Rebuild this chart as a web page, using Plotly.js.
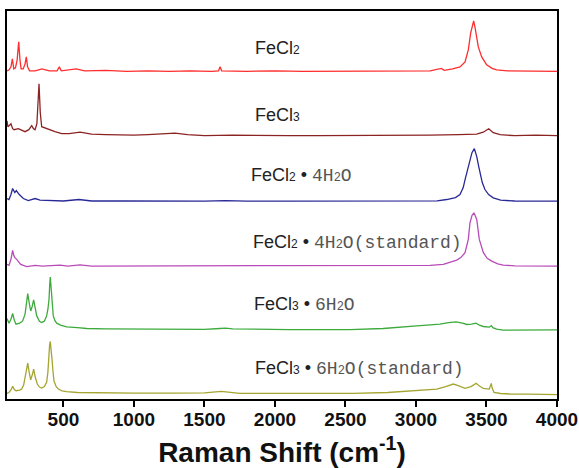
<!DOCTYPE html>
<html>
<head>
<meta charset="utf-8">
<script src="https://cdn.plot.ly/plotly-3.0.1.min.js"></script>
<style>html,body{margin:0;padding:0;background:#fff;}#chart{width:579px;height:468px;}</style>
</head>
<body>
<div id="chart"></div>
<script>
// Raman spectra (stacked, arbitrary intensity units)
const fecl2_x = [100,115,128,138,148,160,172,183,192,200,215,228,237,246,260,300,348,400,455,471,485,590,650,800,950,1100,1250,1400,1550,1600,1611,1622,1800,2000,2200,2400,2600,2800,3000,3100,3180,3200,3260,3312,3348,3371,3388,3400,3409,3418,3428,3442,3466,3501,3540,3572,3650,3800,3900,4000];
const fecl2_y = [329,330,333,341,331,332,340,358,340,331,331,336,343,333,329,329,331,329,329,333,329,331,329,329.5,328.5,329,328.5,329,328.5,329,333,329,328.5,329,328.5,328.5,328.5,328.5,329,329,331.5,329.5,331,333,338,350,367,375,379,373,364,353,343,335,331.5,330,329,328.5,328.5,328.5];

const fecl3_x = [100,106,115,128,140,150,180,205,228,255,275,288,299,312,320,327,332,336,346,381,440,488,540,618,700,800,900,1000,1100,1200,1291,1380,1500,1700,1900,2100,2300,2500,2700,2900,3100,3300,3430,3477,3516,3548,3596,3700,3850,4000];
const fecl3_y = [279,273,274,276,271,270,271,269,268,270,274,271,270,276,300,316,300,287,273,271,268,266,266,267.5,265.5,265,264.5,264.5,265,265.5,266.5,265,264,264.5,264,264,264,264,264,264,264.5,265,265.5,267.5,271,267,265,264,264.5,264];

const fecl2_4h2o_x = [100,114,128,140,155,166,187,216,251,299,334,400,500,610,700,900,1200,1500,1650,1800,2100,2400,2700,3000,3150,3218,3280,3312,3335,3348,3365,3378,3397,3414,3431,3445,3454,3470,3489,3515,3548,3600,3700,4000];
const fecl2_4h2o_y = [201,200,205,211,207,209,205,201,199,201,199.3,198.8,198.5,200,198.5,198.5,198.3,198.3,198.8,198.3,198.3,198.3,198.3,198.5,198.7,200,202,205,212,220,230,237,247,251,243,233,227,217,210,205,201.7,199.3,198.5,198.3];

const fecl2_4h2o_std_x = [100,114,128,140,148,155,169,183,197,240,299,350,476,530,618,700,900,1200,1500,1800,2100,2400,2700,3000,3100,3194,3265,3289,3320,3348,3371,3383,3397,3411,3431,3449,3478,3505,3537,3580,3619,3700,4000];
const fecl2_4h2o_std_y = [135,134,140,149,144,141.7,140,137,135,132.7,134,133.3,134.3,133.3,134.5,133.3,133.3,133.3,133.3,133.3,133.3,133.3,133.3,133.5,134,135,138.3,139.3,142,146.7,160,176.7,184,186.7,180,160,146.7,141,138.3,135.5,134.3,133.5,133.3];

const fecl3_6h2o_x = [100,114,128,140,152,164,190,211,228,238,247,258,268,279,289,300,311,330,346,365,381,390,398,403,407,412,417,428,440,452,480,523,600,665,800,993,1200,1400,1500,1610,1650,1700,1900,2100,2300,2532,2768,2900,3005,3100,3170,3230,3284,3330,3360,3395,3426,3450,3477,3520,3534,3545,3572,3619,3800,4000];
const fecl3_6h2o_y = [80.7,76,80,85.7,79,75,76,78.3,85,95,105.7,96,88.3,93,99.3,91,83.3,78,76.7,78,83.3,90,100,115,122.3,113,100,83.3,78.5,76,74,72.3,71.5,70.7,70.3,70,69.8,69.5,69.8,70.7,71,70.3,69.7,69.5,69.5,69.5,70.7,71.8,73.3,74.3,75,76.5,77.3,76,74.7,75,76,74,72.7,72,73.5,71.5,70,69,69.3,69.3];

const fecl3_6h2o_std_x = [100,114,128,140,152,164,190,204,218,228,238,247,257,268,279,289,300,315,330,346,365,381,390,396,402,407,412,419,426,433,448,464,490,523,600,759,1000,1300,1500,1620,1680,1750,2000,2300,2553,2800,3005,3147,3210,3265,3300,3348,3390,3426,3450,3477,3520,3528,3534,3540,3553,3600,3667,3800,4000];
const fecl3_6h2o_std_y = [5.7,6.5,9,12.7,9.5,8.3,9,10,14,21.7,30,36,27,19.3,24,30,22,15,12,11,12.5,16.7,27,43.3,54,57.7,52,40,28,18.3,12.5,10,8.2,7.3,6.5,6,5.8,5.8,6.2,7.7,7,5.7,5.6,5.6,5.7,6.5,8.3,10,12.5,15,13.5,10.7,12.5,15.7,13,10.7,10,13,15.7,11,6.7,5.5,5,4.8,4.3];

const xTickVals = [500,1000,1500,2000,2500,3000,3500,4000];
const small = d => '<span style="font-size:12px">' + d + '</span>';
const serif = t => '<span style="font-family:\'Liberation Mono\';color:#555">' + t + '</span>';
const labelText = [
  'FeCl' + small('2'),
  'FeCl' + small('3'),
  'FeCl' + small('2') + ' • ' + serif('4H' + small('2') + 'O'),
  'FeCl' + small('2') + ' • ' + serif('4H' + small('2') + 'O(standard)'),
  'FeCl' + small('3') + ' • ' + serif('6H' + small('2') + 'O'),
  'FeCl' + small('3') + ' • ' + serif('6H' + small('2') + 'O(standard)')
];
const labelX = [1844, 1844, 1815, 1830, 1835, 1844];
const labelY = [352, 285, 224.3, 157.3, 95, 31];

const series = [
  [fecl2_x, fecl2_y, 'rgb(255,45,45)'],
  [fecl3_x, fecl3_y, 'rgb(140,35,35)'],
  [fecl2_4h2o_x, fecl2_4h2o_y, 'rgb(40,40,150)'],
  [fecl2_4h2o_std_x, fecl2_4h2o_std_y, 'rgb(185,75,185)'],
  [fecl3_6h2o_x, fecl3_6h2o_y, 'rgb(60,170,60)'],
  [fecl3_6h2o_std_x, fecl3_6h2o_std_y, 'rgb(165,165,50)']
];

const traces = series.map(s => ({
  x: s[0], y: s[1], type: 'scatter', mode: 'lines',
  line: {color: s[2], width: 1.3},
  hoverinfo: 'skip', showlegend: false
}));

const annotations = labelText.map((t, i) => ({
  x: labelX[i], y: labelY[i], xref: 'x', yref: 'y',
  text: t, showarrow: false, xanchor: 'left', yanchor: 'middle',
  font: {family: 'Liberation Sans, Arial, sans-serif', size: 18, color: '#222'}
}));

const layout = {
  width: 579, height: 468,
  margin: {l: 7, r: 22, t: 11, b: 69},
  paper_bgcolor: '#fff', plot_bgcolor: '#fff',
  showlegend: false,
  xaxis: {
    range: [100, 4000],
    tickvals: xTickVals,
    ticks: 'outside', ticklen: 6, tickwidth: 2, tickcolor: '#000',
    ticklabelstandoff: -4,
    showline: true, mirror: true, linewidth: 2, linecolor: '#000',
    showgrid: false, zeroline: false,
    tickfont: {family: 'Liberation Sans, Arial, sans-serif', size: 19, color: '#111', weight: 'bold'},
    title: {text: 'Raman Shift (cm<sup>-1</sup>)', standoff: 17,
      font: {family: 'Liberation Sans, Arial, sans-serif', size: 28, color: '#111', weight: 'bold'}}
  },
  yaxis: {
    range: [0, 389],
    showline: true, mirror: true, linewidth: 2, linecolor: '#000',
    showticklabels: false, ticks: '', showgrid: false, zeroline: false
  },
  annotations: annotations
};

Plotly.newPlot('chart', traces, layout, {staticPlot: true, displayModeBar: false});
</script>
</body>
</html>
